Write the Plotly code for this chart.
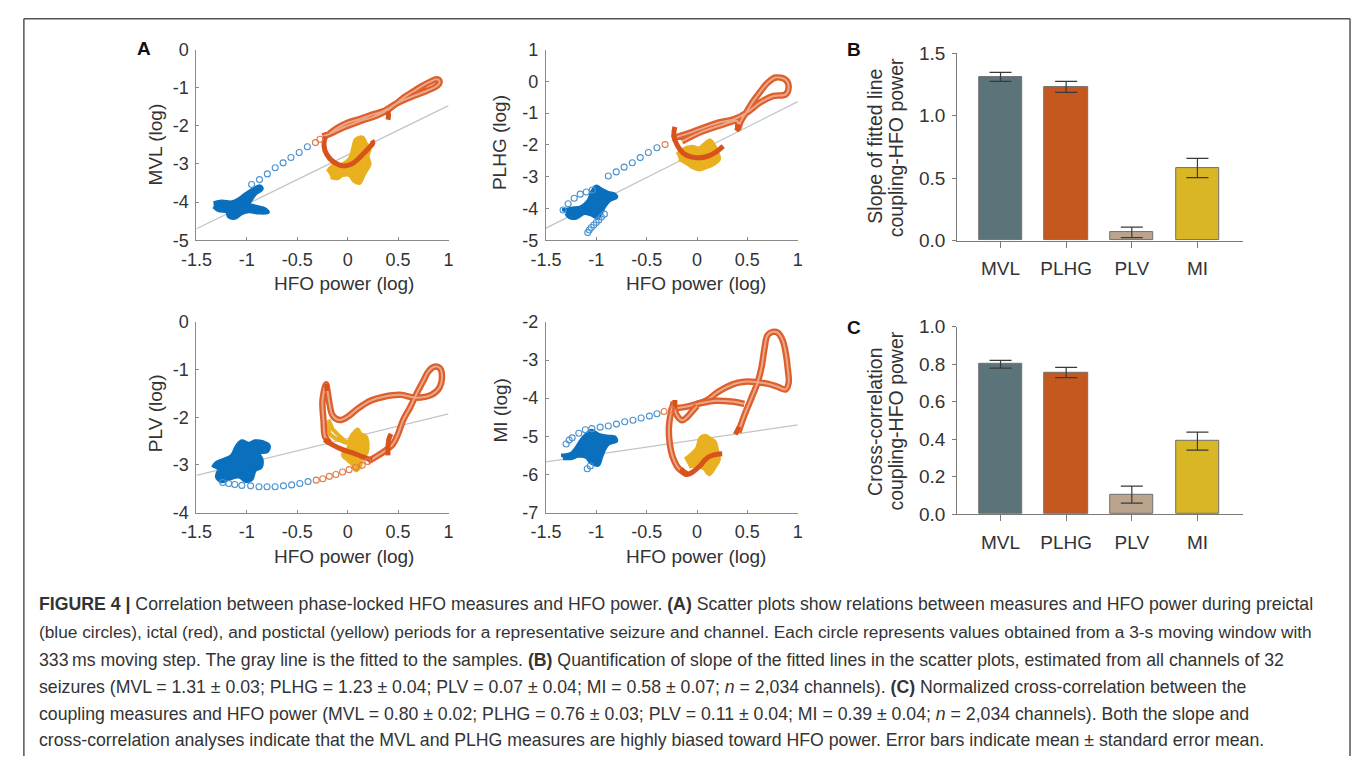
import plotly.graph_objects as go

W, H = 1357, 767
FONT = "Liberation Sans, Arial, Helvetica, sans-serif"

# ---------------- data: scatter panels (HFO power vs coupling, log) ----------------
FIT_X = [-1.5, 1.0]
MVL_FIT_Y = [-4.70, -1.47]
PLHG_FIT_Y = [-4.62, -0.64]
PLV_FIT_Y = [-3.22, -1.93]
MI_FIT_Y = [-5.67, -4.70]

X_TICKVALS = [-1.5, -1, -0.5, 0, 0.5, 1]
X_TICKTEXT = ["-1.5", "-1", "-0.5", "0", "0.5", "1"]

MVL_YTICKS = [0, -1, -2, -3, -4, -5]
PLHG_YTICKS = [1, 0, -1, -2, -3, -4, -5]
PLV_YTICKS = [0, -1, -2, -3, -4]
MI_YTICKS = [-2, -3, -4, -5, -6, -7]

# MVL
MVL_PRE_BLOB = [(-1.33, -4.02), (-1.25, -3.98), (-1.15, -4.00), (-1.08, -3.92), (-1.02, -3.80),
                (-0.95, -3.68), (-0.87, -3.58), (-0.85, -3.65), (-0.92, -3.80), (-0.96, -3.95),
                (-0.98, -4.05), (-0.90, -4.12), (-0.82, -4.18), (-0.79, -4.27), (-0.88, -4.28),
                (-0.98, -4.25), (-1.05, -4.30), (-1.12, -4.42), (-1.18, -4.38), (-1.20, -4.25),
                (-1.28, -4.22), (-1.33, -4.12)]
MVL_PRE_TRAIL = [(-0.953, -3.54), (-0.875, -3.41), (-0.797, -3.26), (-0.719, -3.10), (-0.641, -2.97),
                 (-0.563, -2.83), (-0.481, -2.70), (-0.400, -2.55)]
MVL_POST_BLOB = [(-0.20, -3.20), (-0.15, -3.05), (-0.05, -3.00), (0.02, -2.85), (0.05, -2.60),
                 (0.08, -2.35), (0.15, -2.30), (0.18, -2.45), (0.22, -2.60), (0.20, -2.80),
                 (0.22, -3.00), (0.18, -3.20), (0.15, -3.35), (0.12, -3.50), (0.06, -3.45),
                 (0.02, -3.30), (-0.05, -3.30), (-0.10, -3.38), (-0.17, -3.35)]
MVL_ICT_SPARSE = [(-0.32, -2.44), (-0.275, -2.35)]
MVL_ICT_BAND = [(-0.25, -2.28), (-0.15, -2.18), (-0.05, -2.05), (0.05, -1.95), (0.15, -1.85),
                (0.25, -1.77), (0.33, -1.68), (0.40, -1.58), (0.48, -1.42), (0.56, -1.25),
                (0.65, -1.10), (0.74, -0.95), (0.82, -0.84), (0.88, -0.78), (0.91, -0.82),
                (0.90, -0.92), (0.84, -1.02), (0.75, -1.12), (0.65, -1.22), (0.55, -1.33),
                (0.46, -1.45), (0.40, -1.55), (0.35, -1.62), (0.25, -1.70), (0.12, -1.82),
                (0.00, -1.92), (-0.10, -2.05), (-0.18, -2.20)]
MVL_ICT_SOLID = [[(-0.22, -2.28), (-0.235, -2.45), (-0.225, -2.65), (-0.18, -2.85), (-0.12, -2.98),
                  (-0.04, -3.05), (0.04, -3.00), (0.10, -2.88), (0.16, -2.72), (0.21, -2.58),
                  (0.25, -2.45), (0.24, -2.38)],
                 [(0.40, -1.62), (0.405, -1.72), (0.40, -1.84)]]

# PLHG
PLHG_PRE_BLOB = [(-1.34, -4.05), (-1.25, -4.00), (-1.15, -3.95), (-1.08, -3.75), (-1.04, -3.45),
                 (-1.00, -3.30), (-0.95, -3.40), (-0.88, -3.50), (-0.82, -3.55), (-0.80, -3.65),
                 (-0.87, -3.75), (-0.92, -3.95), (-0.95, -4.15), (-0.98, -4.30), (-1.05, -4.20),
                 (-1.12, -4.15), (-1.20, -4.30), (-1.27, -4.28), (-1.30, -4.15)]
PLHG_PRE_TRAIL = [(-1.33, -4.05), (-1.28, -3.85), (-1.22, -3.68), (-1.16, -3.55), (-1.10, -3.48),
                  (-1.04, -3.42), (-0.92, -4.18), (-0.95, -4.27), (-0.975, -4.36), (-1.00, -4.44),
                  (-1.025, -4.52), (-1.05, -4.60), (-1.07, -4.68), (-1.085, -4.76),
                  (-0.881, -2.98), (-0.802, -2.85), (-0.724, -2.70), (-0.643, -2.56),
                  (-0.564, -2.40), (-0.483, -2.24), (-0.398, -2.09)]
PLHG_POST_BLOB = [(-0.20, -2.30), (-0.15, -2.15), (-0.05, -2.05), (0.02, -2.10), (0.08, -1.95),
                  (0.13, -1.85), (0.17, -2.00), (0.20, -2.20), (0.22, -2.45), (0.17, -2.60),
                  (0.10, -2.70), (0.02, -2.78), (-0.05, -2.70), (-0.12, -2.55), (-0.18, -2.45)]
PLHG_ICT_SPARSE = [(-0.317, -1.99)]
PLHG_ICT_BAND = [(-0.25, -1.80), (-0.15, -1.70), (-0.08, -1.63), (0.05, -1.48), (0.21, -1.30),
                 (0.37, -1.19), (0.50, -0.97), (0.63, -0.66), (0.76, -0.46), (0.88, -0.41),
                 (0.91, -0.15), (0.88, 0.05), (0.78, 0.12), (0.70, -0.05), (0.62, -0.36),
                 (0.55, -0.66), (0.49, -0.97), (0.43, -1.28), (0.41, -1.48),
                 (0.40, -1.25), (0.24, -1.38), (0.05, -1.58), (-0.15, -1.89)]
PLHG_ICT_SOLID = [[(-0.22, -1.43), (-0.23, -1.68), (-0.20, -1.99), (-0.12, -2.30), (-0.02, -2.40),
                   (0.08, -2.38), (0.18, -2.24), (0.26, -2.04)],
                  [(0.41, -1.35), (0.40, -1.50), (0.39, -1.56)]]

# PLV
PLV_PRE_BLOB = [(-1.34, -3.05), (-1.30, -2.95), (-1.22, -2.88), (-1.15, -2.80), (-1.10, -2.60),
                (-1.05, -2.50), (-0.98, -2.55), (-0.92, -2.50), (-0.84, -2.52), (-0.78, -2.60),
                (-0.80, -2.72), (-0.88, -2.75), (-0.85, -2.90), (-0.86, -3.05), (-0.92, -3.12),
                (-0.95, -3.30), (-1.00, -3.35), (-1.08, -3.25), (-1.18, -3.30), (-1.25, -3.35),
                (-1.30, -3.25), (-1.28, -3.12)]
PLV_PRE_TRAIL = [(-1.24, -3.37), (-1.18, -3.39), (-1.12, -3.41), (-1.05, -3.43), (-0.963, -3.44),
                 (-0.88, -3.46), (-0.80, -3.46), (-0.72, -3.46), (-0.637, -3.44), (-0.556, -3.42),
                 (-0.475, -3.39), (-0.393, -3.35)]
PLV_POST_BLOB = [(0.00, -2.55), (0.05, -2.35), (0.10, -2.25), (0.13, -2.35), (0.18, -2.40),
                 (0.20, -2.55), (0.19, -2.75), (0.15, -2.85), (0.12, -3.05), (0.08, -3.12),
                 (0.05, -3.00), (0.00, -2.90), (-0.05, -2.80), (-0.02, -2.68)]
PLV_POST_STREAK = [(-0.19, -2.05), (-0.15, -2.25), (-0.08, -2.40), (0.00, -2.55),
                   (-0.12, -2.45), (-0.18, -2.35), (-0.20, -2.10)]
PLV_ICT_SPARSE = [(-0.312, -3.32), (-0.247, -3.29), (-0.182, -3.24), (-0.117, -3.20), (-0.051, -3.15),
                  (0.014, -3.10), (0.079, -3.05), (0.144, -3.01), (0.199, -2.93)]
PLV_ICT_BAND = [(0.20, -2.93), (0.28, -2.83), (0.36, -2.72), (0.45, -2.56), (0.50, -2.35),
                (0.55, -2.06), (0.62, -1.79), (0.68, -1.52), (0.75, -1.24), (0.80, -1.04),
                (0.86, -0.94), (0.915, -0.97), (0.935, -1.18), (0.91, -1.38), (0.83, -1.53),
                (0.68, -1.59), (0.52, -1.53), (0.36, -1.57), (0.23, -1.65), (0.10, -1.82),
                (0.00, -1.99), (-0.08, -2.06), (-0.15, -1.96), (-0.18, -1.72), (-0.20, -1.45),
                (-0.215, -1.31), (-0.25, -1.65), (-0.24, -2.06), (-0.225, -2.40), (-0.18, -2.54)]
PLV_ICT_SOLID = [[(-0.21, -1.30), (-0.205, -1.45)],
                 [(-0.23, -2.47), (-0.15, -2.58), (-0.05, -2.68), (0.05, -2.75), (0.15, -2.83),
                  (0.24, -2.90)],
                 [(0.43, -2.35), (0.41, -2.45), (0.40, -2.60), (0.40, -2.80)]]

# MI
MI_PRE_BLOB = [(-1.35, -5.50), (-1.25, -5.45), (-1.20, -5.30), (-1.15, -5.10), (-1.10, -4.95),
               (-1.05, -4.85), (-0.98, -4.95), (-0.90, -5.00), (-0.82, -5.02), (-0.80, -5.12),
               (-0.88, -5.20), (-0.92, -5.35), (-0.95, -5.55), (-0.98, -5.75), (-1.05, -5.70),
               (-1.10, -5.55), (-1.18, -5.52), (-1.25, -5.58), (-1.33, -5.58)]
MI_PRE_TRAIL = [(-1.30, -5.20), (-1.27, -5.10), (-1.24, -5.04), (-1.174, -4.92), (-1.109, -4.83),
                (-1.044, -4.80), (-0.962, -4.76), (-0.881, -4.73), (-0.80, -4.68), (-0.718, -4.62),
                (-0.636, -4.58), (-0.555, -4.52), (-0.473, -4.47), (-0.398, -4.41),
                (-1.09, -5.85), (-1.06, -5.78)]
MI_POST_BLOB = [(-0.12, -5.60), (-0.05, -5.45), (0.00, -5.30), (0.03, -5.05), (0.08, -4.98),
                (0.13, -5.05), (0.18, -5.15), (0.20, -5.35), (0.22, -5.60), (0.18, -5.80),
                (0.12, -6.00), (0.07, -5.85), (0.00, -5.78), (-0.08, -5.80)]
MI_ICT_SPARSE = [(-0.327, -4.35), (-0.252, -4.30)]
MI_ICT_BAND = [(-0.20, -4.26), (-0.10, -4.22), (0.00, -4.15), (0.10, -4.05), (0.20, -3.85),
               (0.30, -3.70), (0.40, -3.60), (0.50, -3.56), (0.60, -3.58), (0.70, -3.62),
               (0.80, -3.70), (0.88, -3.77), (0.91, -3.60), (0.90, -3.20), (0.88, -2.80),
               (0.85, -2.48), (0.80, -2.28), (0.75, -2.26), (0.70, -2.35), (0.67, -2.70),
               (0.64, -3.20), (0.60, -3.60), (0.54, -4.00), (0.47, -4.45), (0.41, -4.90)]
MI_ICT_BAND2 = [(0.00, -4.15), (0.10, -4.10), (0.18, -4.07), (0.34, -4.09), (0.47, -4.15)]
MI_ICT_BAND3 = [(-0.23, -4.10), (-0.26, -4.40), (-0.28, -4.80), (-0.27, -5.20), (-0.24, -5.55),
                (-0.18, -5.85), (-0.10, -6.00)]
MI_ICT_BAND4 = [(-0.22, -4.30), (-0.20, -4.45), (-0.15, -4.58), (-0.10, -4.50), (-0.05, -4.35),
                (0.00, -4.20)]
MI_ICT_SOLID = [[(-0.22, -4.05), (-0.22, -4.30)],
                [(-0.16, -5.85), (-0.10, -6.00), (-0.05, -5.95), (0.02, -5.80), (0.08, -5.62),
                 (0.13, -5.52), (0.20, -5.47), (0.25, -5.46)],
                [(0.38, -4.95), (0.40, -4.85), (0.42, -4.75)]]

# ---------------- data: bar panels ----------------
BAR_CATS = ["MVL", "PLHG", "PLV", "MI"]
SLOPE_MEAN = [1.31, 1.23, 0.065, 0.58]
SLOPE_ERR = [0.036, 0.044, 0.042, 0.077]
XCORR_MEAN = [0.80, 0.756, 0.104, 0.39]
XCORR_ERR = [0.021, 0.027, 0.045, 0.048]
SLOPE_TICKS = [0, 0.5, 1.0, 1.5]
XCORR_TICKS = [0, 0.2, 0.4, 0.6, 0.8, 1.0]

# ---------------- styles ----------------
BLUE = "#0a6fbd"
BLUE_LIGHT = "#4b93d1"
RED = "#d8531c"
RED_BAND = "#dd5f2b"
RED_LIGHT = "#e27a4c"
YELLOW = "#e9b01f"
GRAY_FIT = "#c4c4c4"
AX_GRAY = "#8a8a8a"
TXT = "#333333"
BAR_COLORS = ["#5b7479", "#c4581f", "#bba48e", "#d9b623"]


def px2x(p):
    return p / W


def px2y(p):
    return 1 - p / H


fig = go.Figure()


def xs(pts):
    return [p[0] for p in pts]


def ys(pts):
    return [p[1] for p in pts]


def add_panel(n, fit_y, pre_blob, pre_trail, post_blob, post_streaks, ict_sparse, ict_bands, ict_solids):
    xa = "x" if n == 1 else f"x{n}"
    ya = "y" if n == 1 else f"y{n}"
    kw = dict(xaxis=xa, yaxis=ya, showlegend=False, hoverinfo="skip")
    fig.add_trace(go.Scatter(x=FIT_X, y=fit_y, mode="lines", line=dict(color=GRAY_FIT, width=1.3), **kw))
    fig.add_trace(go.Scatter(x=xs(pre_blob), y=ys(pre_blob), mode="lines", fill="toself",
                             fillcolor=BLUE, line=dict(color=BLUE, width=3.5, shape="spline"), **kw))
    fig.add_trace(go.Scatter(x=xs(pre_trail), y=ys(pre_trail), mode="markers",
                             marker=dict(symbol="circle-open", size=6, color=BLUE_LIGHT,
                                         line=dict(width=1.1, color=BLUE_LIGHT)), **kw))
    fig.add_trace(go.Scatter(x=xs(post_blob), y=ys(post_blob), mode="lines", fill="toself",
                             fillcolor=YELLOW, line=dict(color=YELLOW, width=3.5, shape="spline"), **kw))
    for s in post_streaks:
        fig.add_trace(go.Scatter(x=xs(s), y=ys(s), mode="lines",
                                 line=dict(color=YELLOW, width=4), **kw))
    for b in ict_bands:
        fig.add_trace(go.Scatter(x=xs(b), y=ys(b), mode="lines",
                                 line=dict(color=RED_BAND, width=6.5, shape="spline"), **kw))
        fig.add_trace(go.Scatter(x=xs(b), y=ys(b), mode="lines",
                                 line=dict(color="rgba(255,255,255,0.45)", width=2, shape="spline"), **kw))
    for s in ict_solids:
        fig.add_trace(go.Scatter(x=xs(s), y=ys(s), mode="lines",
                                 line=dict(color=RED, width=5, shape="spline"), **kw))
    fig.add_trace(go.Scatter(x=xs(ict_sparse), y=ys(ict_sparse), mode="markers",
                             marker=dict(symbol="circle-open", size=6, color=RED_LIGHT,
                                         line=dict(width=1.1, color=RED_LIGHT)), **kw))


add_panel(1, MVL_FIT_Y, MVL_PRE_BLOB, MVL_PRE_TRAIL, MVL_POST_BLOB, [], MVL_ICT_SPARSE,
          [MVL_ICT_BAND], MVL_ICT_SOLID)
add_panel(2, PLHG_FIT_Y, PLHG_PRE_BLOB, PLHG_PRE_TRAIL, PLHG_POST_BLOB, [], PLHG_ICT_SPARSE,
          [PLHG_ICT_BAND], PLHG_ICT_SOLID)
add_panel(3, PLV_FIT_Y, PLV_PRE_BLOB, PLV_PRE_TRAIL, PLV_POST_BLOB, [PLV_POST_STREAK], PLV_ICT_SPARSE,
          [PLV_ICT_BAND], PLV_ICT_SOLID)
add_panel(4, MI_FIT_Y, MI_PRE_BLOB, MI_PRE_TRAIL, MI_POST_BLOB, [], MI_ICT_SPARSE,
          [MI_ICT_BAND, MI_ICT_BAND2, MI_ICT_BAND3, MI_ICT_BAND4], MI_ICT_SOLID)

for n, mean, err in [(5, SLOPE_MEAN, SLOPE_ERR), (6, XCORR_MEAN, XCORR_ERR)]:
    fig.add_trace(go.Bar(x=BAR_CATS, y=mean, width=0.66, xaxis=f"x{n}", yaxis=f"y{n}",
                         marker=dict(color=BAR_COLORS, line=dict(color="#707070", width=1)),
                         error_y=dict(type="data", array=err, color="#3a3a3a", thickness=1.2, width=11),
                         showlegend=False, hoverinfo="skip"))

# ---------------- layout ----------------
scatter_geom = {
    1: ((183.3, 439.3), (40.7, 236.7), (-5, 0), MVL_YTICKS),
    2: ((538.3, 794.0), (40.7, 236.7), (-5, 1), PLHG_YTICKS),
    3: ((183.3, 439.3), (320.7, 516.7), (-4, 0), PLV_YTICKS),
    4: ((538.3, 794.0), (320.7, 516.7), (-7, -2), MI_YTICKS),
}
layout = dict(width=W, height=H, margin=dict(l=0, r=0, t=0, b=0),
              paper_bgcolor="white", plot_bgcolor="white",
              font=dict(family=FONT, color=TXT), bargap=0)
for n, (gx, gy, yr, yt) in scatter_geom.items():
    sx = "xaxis" if n == 1 else f"xaxis{n}"
    sy = "yaxis" if n == 1 else f"yaxis{n}"
    layout[sx] = dict(domain=[px2x(gx[0]), px2x(gx[1])], range=[-1.5, 1.0], anchor="y" if n == 1 else f"y{n}",
                      showline=True, linecolor=AX_GRAY, linewidth=1, showgrid=False, zeroline=False,
                      tickvals=X_TICKVALS, ticktext=X_TICKTEXT, ticks="inside", ticklen=3,
                      tickcolor=AX_GRAY, tickfont=dict(size=18, color=TXT), ticklabelstandoff=3)
    layout[sy] = dict(domain=[px2y(gy[1]), px2y(gy[0])], range=list(yr), anchor="x" if n == 1 else f"x{n}",
                      showline=True, linecolor=AX_GRAY, linewidth=1, showgrid=False, zeroline=False,
                      tickvals=yt, ticktext=[str(v) for v in yt], ticks="inside",
                      ticklen=3, tickcolor=AX_GRAY, tickfont=dict(size=18, color=TXT), ticklabelstandoff=3)

bar_geom = {5: ((956, 1246), (44.3, 237), [0, 1.5], SLOPE_TICKS),
            6: ((956, 1246), (325.7, 518.3), [0, 1.0], XCORR_TICKS)}
for n, (gx, gy, yr, yt) in bar_geom.items():
    layout[f"xaxis{n}"] = dict(domain=[px2x(gx[0]), px2x(gx[1])], range=[-0.66, 3.69], anchor=f"y{n}",
                               type="category", showline=True, linecolor="#7a7a7a", linewidth=1.2,
                               ticks="outside", ticklen=6, tickcolor="#7a7a7a", showgrid=False,
                               tickfont=dict(size=19, color=TXT), ticklabelstandoff=5)
    layout[f"yaxis{n}"] = dict(domain=[px2y(gy[1]), px2y(gy[0])], range=yr, anchor=f"x{n}",
                               showline=True, linecolor="#7a7a7a", linewidth=1.2, ticks="outside",
                               ticklen=4, tickcolor="#7a7a7a", showgrid=False, zeroline=False,
                               tickvals=yt, tickformat=".1f", tickfont=dict(size=19, color=TXT),
                               ticklabelstandoff=3)
fig.update_layout(**layout)


def ann(text, x, y, size, angle=0, bold=False, xanchor="center"):
    fig.add_annotation(text=f"<b>{text}</b>" if bold else text, x=px2x(x), y=px2y(y), xref="paper",
                       yref="paper", showarrow=False, textangle=angle, xanchor=xanchor, yanchor="middle",
                       font=dict(size=size, family=FONT, color="#111" if bold else TXT))


ann("A", 130.5, 40, 19, bold=True)
ann("B", 851.5, 41, 19, bold=True)
ann("C", 851, 326, 19, bold=True)
for (x, y, t) in [(141.7, 138.7, "MVL (log)"), (491.7, 136.7, "PLHG (log)"),
                  (141.7, 415, "PLV (log)"), (491.7, 411.7, "MI (log)")]:
    ann(t, x, y, 19, angle=-90)
for (x, y) in [(333, 281.7), (691, 281.7), (333, 561.7), (691, 561.7)]:
    ann("HFO power (log)", x, y, 19)
ann("Slope of fitted line", 873, 140, 19.5, angle=-90)
ann("coupling-HFO power", 894, 142, 19.5, angle=-90)
ann("Cross-correlation", 873, 423, 19.5, angle=-90)
ann("coupling-HFO power", 894, 423, 19.5, angle=-90)

CAPTION = [
    "<b>FIGURE 4 |</b> Correlation between phase-locked HFO measures and HFO power. <b>(A)</b> Scatter plots show relations between measures and HFO power during preictal",
    "(blue circles), ictal (red), and postictal (yellow) periods for a representative seizure and channel. Each circle represents values obtained from a 3-s moving window with",
    "333\u2009ms moving step. The gray line is the fitted to the samples. <b>(B)</b> Quantification of slope of the fitted lines in the scatter plots, estimated from all channels of 32",
    "seizures (MVL = 1.31 ± 0.03; PLHG = 1.23 ± 0.04; PLV = 0.07 ± 0.04; MI = 0.58 ± 0.07; <i>n</i> = 2,034 channels). <b>(C)</b> Normalized cross-correlation between the",
    "coupling measures and HFO power (MVL = 0.80 ± 0.02; PLHG = 0.76 ± 0.03; PLV = 0.11 ± 0.04; MI = 0.39 ± 0.04; <i>n</i> = 2,034 channels). Both the slope and",
    "cross-correlation analyses indicate that the MVL and PLHG measures are highly biased toward HFO power. Error bars indicate mean ± standard error mean.",
]
CAPTION_Y = [611, 640, 668, 696, 724, 751]
CAPTION_SIZE = [17.7, 17.3, 17.7, 17.7, 17.7, 17.7]
for t, y, s in zip(CAPTION, CAPTION_Y, CAPTION_SIZE):
    ann(t, 21, y, s, xanchor="left")

# figure frame
for (x0, y0, x1, y1) in [(8, 9, 1355, 9), (8, 9, 8, 767), (1355, 9, 1355, 767)]:
    fig.add_shape(type="line", xref="paper", yref="paper", x0=px2x(x0), y0=px2y(y0), x1=px2x(x1),
                  y1=px2y(y1), line=dict(color="#555555", width=1.5))

fig.write_html("out.html", config={"displayModeBar": False},
               post_script="document.body.style.margin='0';document.body.style.overflow='hidden';")
